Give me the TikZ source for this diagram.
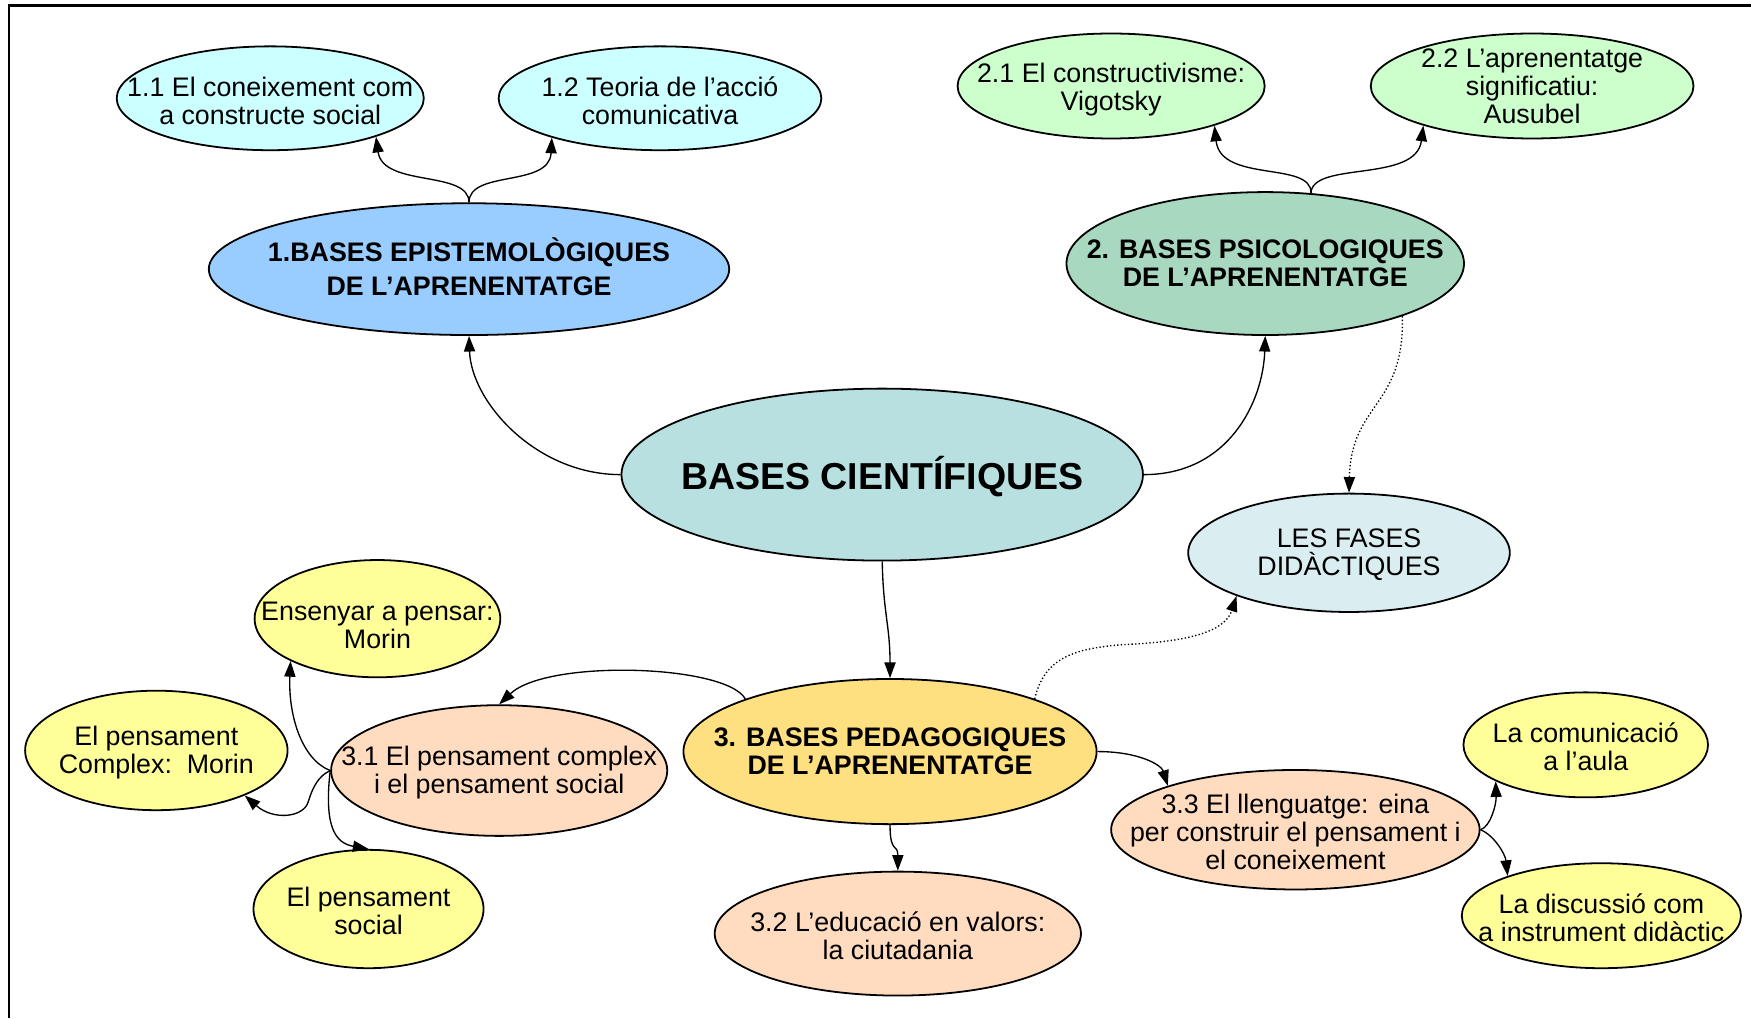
\documentclass[tikz,border=0pt]{standalone}
\usepackage{fontspec}
\setmainfont{Liberation Sans}
\usetikzlibrary{shapes.geometric,arrows.meta}

\definecolor{cyanpale}{HTML}{CCFFFF}
\definecolor{blueepi}{HTML}{99CCFF}
\definecolor{greenpale}{HTML}{CCFFCC}
\definecolor{greenpsi}{HTML}{A8D8C0}
\definecolor{tealcen}{HTML}{B8E0E0}
\definecolor{fasesblue}{HTML}{DAEEF2}
\definecolor{goldped}{HTML}{FFE080}
\definecolor{peach}{HTML}{FFDCC0}
\definecolor{lemon}{HTML}{FFFF99}

\tikzset{
  bubble/.style={ellipse, draw=black, line width=0.8pt, inner sep=0pt},
  txt/.style={align=center, inner sep=0pt, font=\fontsize{12}{12.5}\selectfont},
  btxt/.style={align=center, inner sep=0pt, font=\bfseries\fontsize{12}{12.5}\selectfont},
  link/.style={line width=0.6pt, -{Triangle[length=7pt,width=5pt]}},
  dlink/.style={link, densely dotted},
}

\begin{document}
\begin{tikzpicture}[x=0.5pt,y=-0.5pt]
\useasboundingbox (0,0) rectangle (1568,912);
% page frame
\draw[line width=1pt] (8,912) -- (8,5) -- (1568,5);

% central topic
\node[bubble, fill=tealcen, minimum width=233.5pt, minimum height=77pt,
  label={[align=center, inner sep=0pt, yshift=-1pt, font=\bfseries\fontsize{16.8}{20}\selectfont]center:{BASES CIENTÍFIQUES}}] (cen) at (790,425) {};

% branch 1
\node[bubble, fill=blueepi, minimum width=233pt, minimum height=59pt,
  label={[btxt, yshift=1pt, font=\bfseries\fontsize{12}{15}\selectfont]center:{1.BASES EPISTEMOLÒGIQUES\\DE L’APRENENTATGE}}] (n1) at (420,241) {};
\node[bubble, fill=cyanpale, minimum width=137.5pt, minimum height=46.5pt,
  label={[txt, yshift=-1pt]center:{1.1 El coneixement com\\a constructe social}}] (n11) at (242,88) {};
\node[bubble, fill=cyanpale, minimum width=144.5pt, minimum height=46.5pt,
  label={[txt, yshift=-1pt]center:{1.2 Teoria de l’acció\\comunicativa}}] (n12) at (591,88) {};

% branch 2
\node[bubble, fill=greenpsi, minimum width=178pt, minimum height=64pt,
  label={[btxt]center:{2. BASES PSICOLOGIQUES\\DE L’APRENENTATGE}}] (n2) at (1133,236) {};
\node[bubble, fill=greenpale, minimum width=137.5pt, minimum height=47pt,
  label={[txt, yshift=-1.5pt]center:{2.1 El constructivisme:\\Vigotsky}}] (n21) at (995,77) {};
\node[bubble, fill=greenpale, minimum width=144.5pt, minimum height=47pt,
  label={[txt]center:{2.2 L’aprenentatge\\significatiu:\\Ausubel}}] (n22) at (1372,77) {};

\node[bubble, fill=fasesblue, minimum width=144pt, minimum height=53pt,
  label={[txt, yshift=-1pt]center:{LES FASES\\DIDÀCTIQUES}}] (fas) at (1208,495) {};

% branch 3
\node[bubble, fill=goldped, minimum width=185pt, minimum height=65pt,
  label={[btxt]center:{3. BASES PEDAGOGIQUES\\DE L’APRENENTATGE}}] (n3) at (797,673) {};
\node[bubble, fill=peach, minimum width=150.5pt, minimum height=58.5pt,
  label={[txt, yshift=-1pt]center:{3.1 El pensament complex\\i el pensament social}}] (n31) at (447,690) {};
\node[bubble, fill=peach, minimum width=164pt, minimum height=55.5pt,
  label={[txt, yshift=-1pt]center:{3.2 L’educació en valors:\\la ciutadania}}] (n32) at (804,836) {};
\node[bubble, fill=peach, minimum width=165pt, minimum height=53.5pt,
  label={[txt, yshift=-1pt]center:{3.3 El llenguatge: eina\\per construir el pensament i\\el coneixement}}] (n33) at (1160,743) {};

\node[bubble, fill=lemon, minimum width=110pt, minimum height=52.5pt,
  label={[txt, yshift=-3pt]center:{Ensenyar a pensar:\\Morin}}] (ens) at (338,554) {};
\node[bubble, fill=lemon, minimum width=117.5pt, minimum height=53.5pt,
  label={[txt, yshift=-1pt]center:{El pensament\\Complex:\ \ Morin}}] (pc) at (140,672) {};
\node[bubble, fill=lemon, minimum width=103pt, minimum height=53pt,
  label={[txt, yshift=-1pt]center:{El pensament\\social}}] (ps) at (330,814) {};
\node[bubble, fill=lemon, minimum width=109.5pt, minimum height=47pt,
  label={[txt, yshift=-1pt]center:{La comunicació\\a l’aula}}] (com) at (1420,667) {};
\node[bubble, fill=lemon, minimum width=125pt, minimum height=47pt,
  label={[txt, yshift=-1pt]center:{La discussió com\\a instrument didàctic}}] (disc) at (1434,820) {};

% connectors from the central topic
\draw[link] (cen.west) .. controls (480,425) and (422,360) .. (n1.south);
\draw[link] (cen.east) .. controls (1100,425) and (1131,360) .. (n2.south);
\draw[link] (cen.south) .. controls (791,550) and (797,560) .. (n3.north);

% branch 1
\draw[link] (n1.north) .. controls (420,152) and (343,168) .. (n11.-20);
\draw[link] (n1.north) .. controls (420,152) and (492,168) .. (n12.200);

% branch 2
\draw[link] (n2.57) .. controls (1175,144) and (1093,164) .. (n21.-21);
\draw[link] (n2.57) .. controls (1175,144) and (1268,164) .. (n22.200);
\draw[dlink] (n2.-21) .. controls (1258,365) and (1210,360) .. (fas.north);

% branch 3
\draw[dlink] (n3.20) .. controls (935,590) and (960,580) .. (1010,577)
  .. controls (1075,574) and (1098,562) .. (fas.201);
\draw[link] (n3.160) .. controls (650,595) and (490,590) .. (n31.north);
\draw[link] (n3.east) .. controls (1020,673) and (1040,685) .. (n33.161);
\draw[link] (n3.south) .. controls (797,765) and (804,755) .. (n32.north);

\draw[link] (n31.west) .. controls (270,680) and (258,640) .. (ens.206);
\draw[link] (n31.west) .. controls (285,695) and (280,705) .. (276,718)
  .. controls (272,732) and (245,735) .. (pc.-27);
\draw[link] (n31.west) .. controls (290,740) and (300,755) .. (ps.north);

\draw[link] (n33.east) .. controls (1335,740) and (1340,720) .. (com.202);
\draw[link] (n33.east) .. controls (1338,748) and (1348,765) .. (disc.157);
\end{tikzpicture}
\end{document}
